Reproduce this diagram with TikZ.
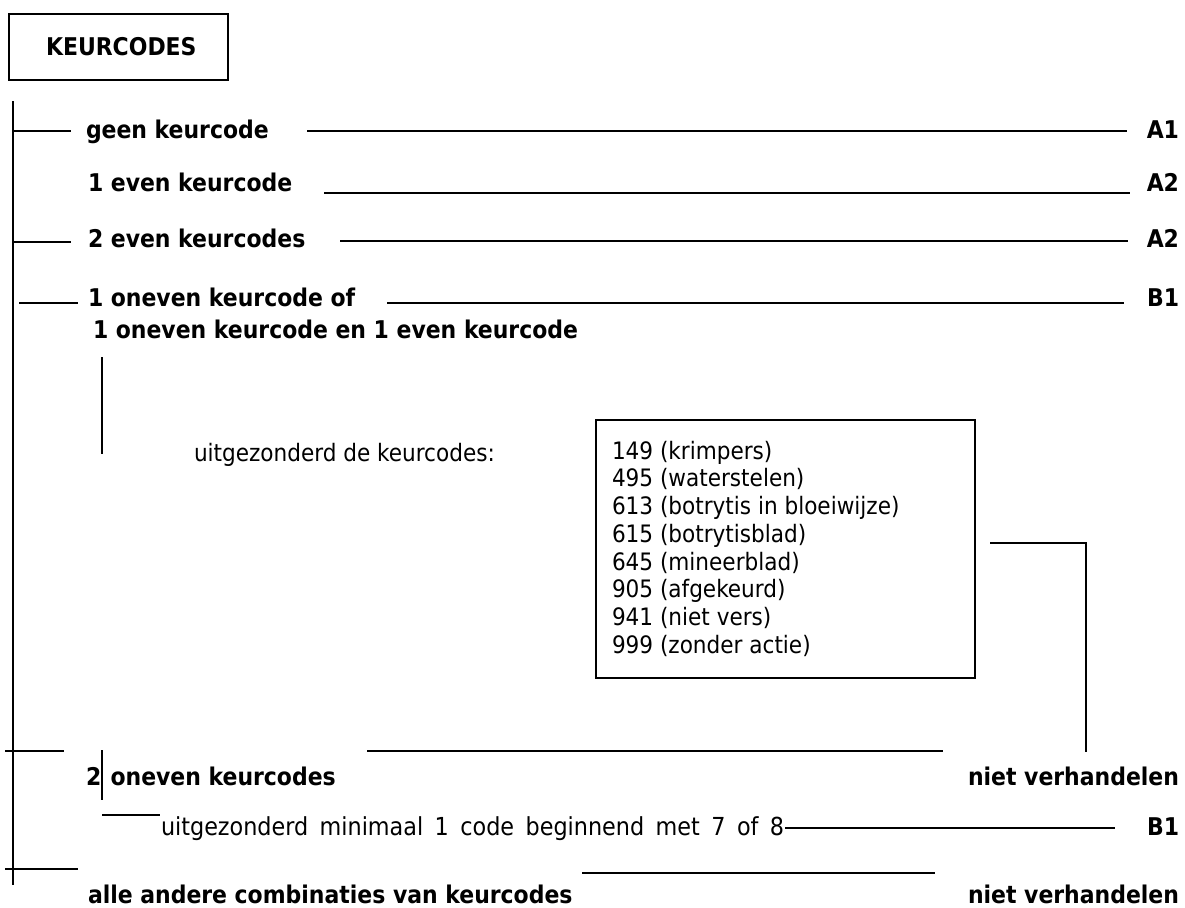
\documentclass[tikz,border=0pt]{standalone}
\usepackage{fontspec}
\setmainfont{DejaVu Sans Condensed}

\tikzset{every picture/.style={line width=1.5pt}}

\begin{document}
\begin{tikzpicture}[x=0.75pt,y=0.75pt,yscale=-1,xscale=1,
  hd/.style={font=\fontsize{18.3}{22}\selectfont\bfseries, inner sep=0pt},
  tx/.style={font=\fontsize{18}{20.8}\selectfont, inner sep=0pt}]
\path[use as bounding box] (0,0) rectangle (1185,907); %set diagram size

%Shape: Rectangle [id:title]
\draw  (9,14) rectangle (228,80) ;
\node[hd, anchor=base west] (title) at (45,55) {KEURCODES};

%Straight Lines [id:trunk]
\draw    (13,101) -- (13,885) ;

%geen keurcode
\draw    (13,131) -- (71,131) ;
\node[hd, anchor=base west] (geen) at (85,138) {geen keurcode};
\draw    (307,131) -- (1127,131) ;
\node[hd, anchor=base east] (a1) at (1180,138) {A1};

%1 even keurcode
\node[hd, anchor=base west] (een) at (87,191) {1 even keurcode};
\draw    (324,193) -- (1130,193) ;
\node[hd, anchor=base east] (a2a) at (1180,191) {A2};

%2 even keurcodes
\draw    (13,242) -- (71,242) ;
\node[hd, anchor=base west] (twee) at (87,247) {2 even keurcodes};
\draw    (340,241) -- (1128,241) ;
\node[hd, anchor=base east] (a2b) at (1180,247) {A2};

%1 oneven keurcode
\draw    (19,303) -- (78,303) ;
\node[hd, anchor=base west] (oneven) at (87,306) {1 oneven keurcode of};
\node[hd, anchor=base west] (onevenb) at (92,338) {1 oneven keurcode en 1 even keurcode};
\draw    (387,303) -- (1124,303) ;
\node[hd, anchor=base east] (b1a) at (1180,306) {B1};
\draw    (102,357) -- (102,454) ;

%uitgezonderd
\node[tx, anchor=base west] (uitg) at (193,461) {uitgezonderd de keurcodes:};
\draw  (596,420) rectangle (975,678) ;
\node[tx, anchor=north west, align=left] (codes) at (611,440)
  {149 (krimpers)\\495 (waterstelen)\\613 (botrytis in bloeiwijze)\\615 (botrytisblad)\\645 (mineerblad)\\905 (afgekeurd)\\941 (niet vers)\\999 (zonder actie)};
\draw    (990,543) -- (1086,543) -- (1086,752) ;

%2 oneven keurcodes
\draw    (5,751) -- (64,751) ;
\draw    (367,751) -- (943,751) ;
\node[hd, anchor=base west] (twoon) at (85,785) {2\hspace{7pt}oneven keurcodes};
\draw    (102,750) -- (102,800) ;
\node[hd, anchor=base east] (nv1) at (1180,785) {niet verhandelen};

%uitgezonderd minimaal
\draw    (102,815) -- (160,815) ;
\node[tx, anchor=base west, font=\fontsize{18.6}{21}\selectfont] (uitgm) at (160,835) {\spaceskip=8.6pt uitgezonderd minimaal 1 code beginnend met 7 of 8};
\draw    (785,828) -- (1115,828) ;
\node[hd, anchor=base east] (b1b) at (1180,835) {B1};

%alle andere
\draw    (5,869) -- (78,869) ;
\draw    (582,873) -- (935,873) ;
\node[hd, anchor=base west] (alle) at (87,903) {alle andere combinaties van keurcodes};
\node[hd, anchor=base east] (nv2) at (1180,903) {niet verhandelen};

\end{tikzpicture}
\end{document}
